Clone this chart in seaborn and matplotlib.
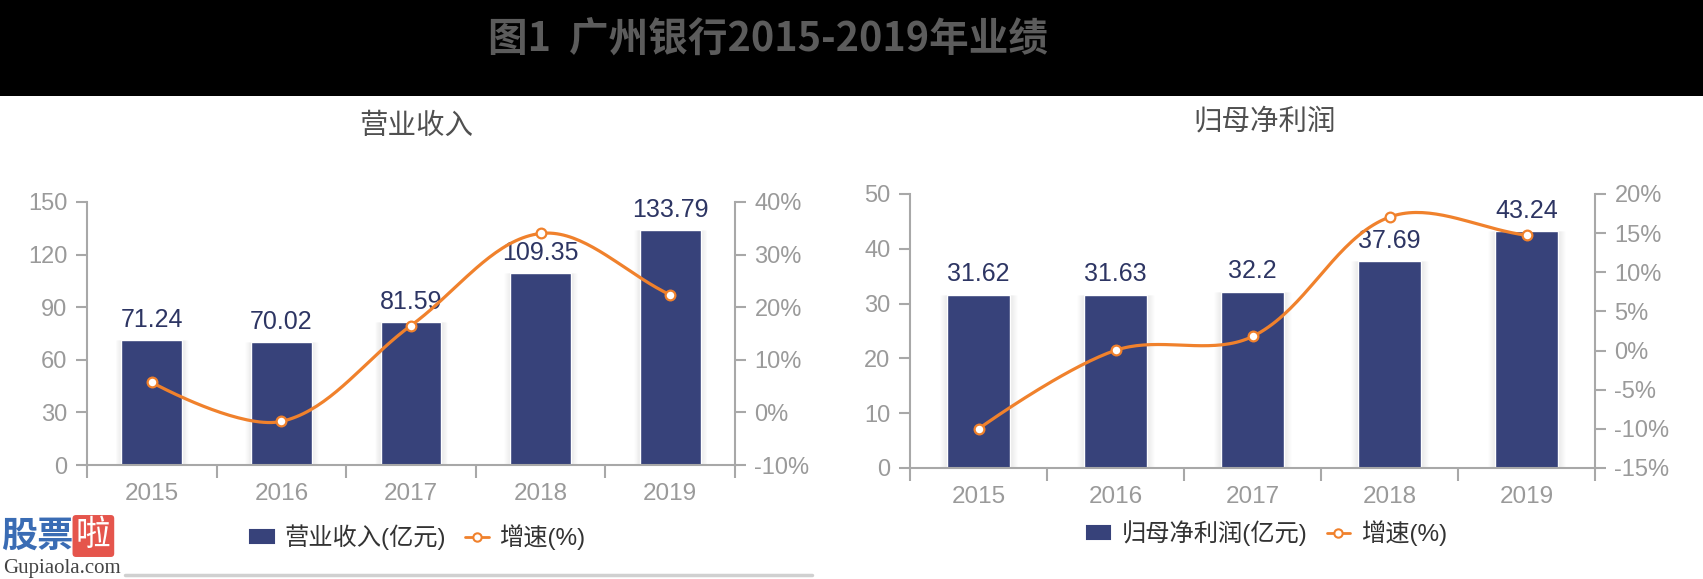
import numpy as np
import pandas as pd
import matplotlib
matplotlib.use("Agg")
import matplotlib.pyplot as plt
import seaborn as sns
from matplotlib.patches import Patch, Rectangle
from matplotlib.lines import Line2D
from matplotlib.ticker import FixedLocator

# Data
years = ['2015', '2016', '2017', '2018', '2019']
revenue = [71.24, 70.02, 81.59, 109.35, 133.79]
revenue_growth = [5.7, -1.71, 16.52, 34.02, 22.35]
profit = [31.62, 31.63, 32.2, 37.69, 43.24]
profit_growth = [-10.0, 0.03, 1.8, 17.05, 14.73]

BAR = '#37427a'
LABEL = '#2d3563'
ORANGE = '#f0812c'
GRAY = '#a8a8a8'
TICK = '#9a9a9a'

sns.set_theme(style="white")
plt.rcParams['font.family'] = ['Liberation Sans', 'Noto Sans CJK SC', 'DejaVu Sans']


def smooth_curve(y, sx, sy, smooth=0.35, n=40):
    # echarts-style bezier smoothing, done in pixel space
    P = np.column_stack([np.arange(len(y)) * sx, np.asarray(y, dtype=float) * sy])
    xs, ys = [], []
    cp0 = P[0]
    t = np.linspace(0, 1, n)[:, None]
    for k in range(1, len(P)):
        p, prev = P[k], P[k - 1]
        nxt = P[k + 1] if k + 1 < len(P) else P[k]
        v = (nxt - prev) * smooth
        lp = np.hypot(*(p - prev))
        ln = np.hypot(*(nxt - p))
        r = ln / (ln + lp)
        cp1 = p - v * (1 - r)
        pts = (1 - t) ** 3 * prev + 3 * (1 - t) ** 2 * t * cp0 + 3 * (1 - t) * t ** 2 * cp1 + t ** 3 * p
        xs.extend(pts[:, 0] / sx)
        ys.extend(pts[:, 1] / sy)
        cp0 = p + v * r
    return np.array(xs), np.array(ys)


def panel(rect, values, growth, ylim, yticks, rlim, rticks, subtitle, sub_xy, legend_name, leg_xy, bw):
    ax = fig.add_axes(rect)
    df = pd.DataFrame({'year': years, 'value': values})
    # soft shadow behind the bars
    for extra in np.linspace(0.09, 0.01, 7):
        sns.barplot(data=df, x='year', y='value', color='black', alpha=0.011,
                    width=bw + extra, ax=ax, errorbar=None, saturation=1)
    sns.barplot(data=df, x='year', y='value', color=BAR, width=bw, ax=ax,
                errorbar=None, saturation=1)
    ax.bar_label(ax.containers[-1], labels=[str(v) for v in values], padding=6,
                 color=LABEL, fontsize=18)
    ax.set_xlim(-0.5, 4.5)
    ax.set_ylim(*ylim)
    ax.set_yticks(yticks)
    ax.set_xlabel('')
    ax.set_ylabel('')
    ax.xaxis.set_minor_locator(FixedLocator(np.arange(-0.5, 5, 1)))
    ax.tick_params(axis='x', which='major', length=0, pad=13, labelsize=17.5, labelcolor=TICK)
    ax.tick_params(axis='x', which='minor', length=9, width=1.5, color=GRAY, direction='out', bottom=True)
    ax.tick_params(axis='y', length=8, width=1.5, color=GRAY, pad=6, labelsize=17,
                   labelcolor=TICK, direction='out', left=True)
    for s in ['top', 'right']:
        ax.spines[s].set_visible(False)
    for s in ['left', 'bottom']:
        ax.spines[s].set_color(GRAY)
        ax.spines[s].set_linewidth(1.5)

    ax2 = ax.twinx()
    bbox = ax.get_window_extent()
    sx = bbox.width / 5
    sy = bbox.height / (rlim[1] - rlim[0])
    xs, ys = smooth_curve(growth, sx, sy)
    sns.lineplot(x=xs, y=ys, sort=False, color=ORANGE, linewidth=2.3, ax=ax2)
    ax2.plot(range(len(growth)), growth, 'o', ms=7, mfc='white', mec=ORANGE, mew=1.6, zorder=5)
    ax2.set_ylim(*rlim)
    ax2.set_yticks(rticks)
    ax2.set_yticklabels([f'{t}%' for t in rticks])
    ax2.tick_params(axis='y', length=8, width=1.5, color=GRAY, pad=6, labelsize=17,
                    labelcolor=TICK, direction='out', right=True)
    for s in ['top', 'left', 'bottom']:
        ax2.spines[s].set_visible(False)
    ax2.spines['right'].set_color(GRAY)
    ax2.spines['right'].set_linewidth(1.5)

    fig.text(sub_xy[0] / W, 1 - sub_xy[1] / H, subtitle, ha='center', va='center',
             fontsize=20.5, color='#505050')

    handles = [Patch(facecolor=BAR, edgecolor=BAR, linewidth=1.5, joinstyle='round', label=legend_name),
               Line2D([0], [0], color=ORANGE, lw=2, marker='o', ms=6, mfc='white', mec=ORANGE,
                      mew=1.5, label='增速(%)')]
    fig.legend(handles=handles, loc='center', bbox_to_anchor=(leg_xy[0] / W, 1 - leg_xy[1] / H),
               ncol=2, frameon=False, fontsize=17.5, handlelength=0.95, handleheight=0.45,
               handletextpad=0.45, columnspacing=0.8, labelcolor='#333333')
    return ax


W, H = 1703, 579
fig = plt.figure(figsize=(W / 100, H / 100), dpi=100)
fig.patch.set_facecolor('white')

# black banner with the title
fig.patches.append(Rectangle((0, 1 - 96 / H), 1, 96 / H, transform=fig.transFigure,
                             facecolor='black', edgecolor='none', zorder=0))
fig.text(768 / W, 1 - 40 / H, '图1  广州银行2015-2019年业绩', ha='center', va='center',
         fontsize=28.5, fontweight='bold', color='#5c5c5c',
         family=['Noto Sans CJK SC', 'DejaVu Sans'])

panel([87 / W, 1 - 465 / H, (735 - 87) / W, (465 - 202) / H],
      revenue, revenue_growth, (0, 150), [0, 30, 60, 90, 120, 150],
      (-10, 40), [-10, 0, 10, 20, 30, 40], '营业收入', (416, 127),
      '营业收入(亿元)', (418, 537), 0.47)

panel([910 / W, 1 - 468 / H, (1595 - 910) / W, (468 - 194) / H],
      profit, profit_growth, (0, 50), [0, 10, 20, 30, 40, 50],
      (-15, 20), [-15, -10, -5, 0, 5, 10, 15, 20], '归母净利润', (1265, 122),
      '归母净利润(亿元)', (1267, 533), 0.465)

# watermark in the lower left corner
fig.text(1 / W, 1 - 536 / H, '股票', fontsize=26, fontweight='bold', color='#3a6cb4',
         va='center', family=['Noto Sans CJK SC', 'DejaVu Sans'])
fig.text(76 / W, 1 - 536 / H, '啦', fontsize=25, color='white', va='center',
         family=['Noto Sans CJK SC', 'DejaVu Sans'],
         bbox=dict(boxstyle='round,pad=0.1', facecolor='#e5554c', edgecolor='none'))
fig.text(3 / W, 1 - 568 / H, 'Gupiaola.com', fontsize=15, color='#444444', va='center',
         family=['Liberation Serif', 'DejaVu Serif'])
fig.add_artist(Line2D([125 / W, 812 / W], [1 - 575 / H, 1 - 575 / H], color='#d0d0d0', lw=2.5))

fig.savefig('out.png', dpi=100)
